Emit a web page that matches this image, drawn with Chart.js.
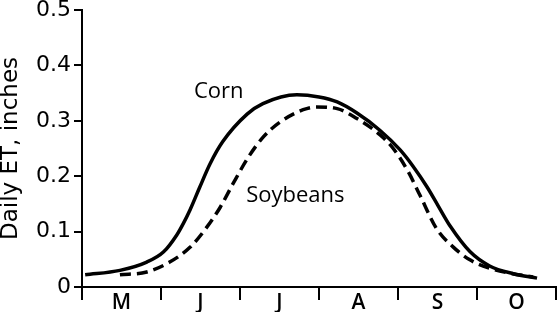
<!DOCTYPE html>
<html lang="en">
<head>
    <meta charset="UTF-8">
    <style>
        body { margin: 0; background: #fff; }
        #wrap { width: 558px; height: 312px; }
    </style>
</head>

<body>
<script src="https://cdn.jsdelivr.net/npm/chart.js@4.4.0/dist/chart.umd.min.js"></script>
<div id="wrap"><canvas id="et-chart"></canvas></div>
<script>

    // month bands along the season, x is measured in months from May 1
    const months = ['M', 'J', 'J', 'A', 'S', 'O']

    const cornX  = [0.04, 0.48, 0.82, 1.03, 1.20, 1.28, 1.37, 1.49, 1.62, 1.78, 2.09, 2.29, 2.72, 3.00, 3.23, 3.48, 3.77, 4.03, 4.19, 4.37, 4.51, 4.66, 4.91, 5.16, 5.46, 5.76]
    const cornET = [0.022, 0.030, 0.045, 0.063, 0.094, 0.114, 0.140, 0.180, 0.222, 0.262, 0.312, 0.331, 0.347, 0.343, 0.334, 0.314, 0.283, 0.247, 0.218, 0.180, 0.146, 0.110, 0.064, 0.038, 0.024, 0.016]

    const soyX  = [0.48, 0.82, 1.11, 1.37, 1.58, 1.75, 1.91, 2.10, 2.29, 2.51, 2.80, 2.97, 3.23, 3.48, 3.77, 3.94, 4.13, 4.28, 4.49, 4.70, 4.91, 5.16, 5.42, 5.71]
    const soyET = [0.022, 0.027, 0.045, 0.072, 0.108, 0.144, 0.186, 0.233, 0.270, 0.298, 0.320, 0.325, 0.322, 0.304, 0.275, 0.250, 0.208, 0.165, 0.105, 0.072, 0.049, 0.034, 0.025, 0.018]

    const cornPoints = cornX.map((x, i) => ({x: x, y: cornET[i]}))
    const soyPoints = soyX.map((x, i) => ({x: x, y: soyET[i]}))

    // "Corn" / "Soybeans" written next to the curves
    const curveLabels = {
        id: 'curveLabels',
        afterDatasetsDraw(chart) {
            const ctx = chart.ctx
            const xs = chart.scales.x, ys = chart.scales.y
            ctx.save()
            ctx.fillStyle = '#000'
            ctx.font = '22px "Open Sans"'
            ctx.textAlign = 'center'
            ctx.textBaseline = 'middle'
            ctx.fillText('Corn', xs.getPixelForValue(1.73), ys.getPixelForValue(0.352))
            ctx.fillText('Soybeans', xs.getPixelForValue(2.70), ys.getPixelForValue(0.165))
            ctx.restore()
        }
    }

    new Chart(document.getElementById('et-chart'), {
        type: 'line',
        data: {
            datasets: [
                {
                    label: 'Corn',
                    data: cornPoints,
                    borderColor: '#000',
                    borderWidth: 3.5,
                    pointRadius: 0,
                    cubicInterpolationMode: 'monotone'
                },
                {
                    label: 'Soybeans',
                    data: soyPoints,
                    borderColor: '#000',
                    borderWidth: 3.5,
                    borderDash: [11, 6],
                    pointRadius: 0,
                    cubicInterpolationMode: 'monotone'
                }
            ]
        },
        options: {
            responsive: true,
            maintainAspectRatio: false,
            animation: false,
            layout: { padding: { left: 0, right: 2, top: 0, bottom: 0 } },
            plugins: {
                legend: { display: false },
                tooltip: { enabled: false }
            },
            scales: {
                x: {
                    type: 'linear',
                    display: false,
                    min: 0,
                    max: 6
                },
                months: {
                    type: 'category',
                    labels: months,
                    position: 'bottom',
                    offset: true,
                    grid: {
                        offset: true,
                        drawOnChartArea: false,
                        drawTicks: true,
                        tickLength: 13,
                        color: '#000',
                        lineWidth: 2
                    },
                    border: { color: '#000', width: 2 },
                    ticks: {
                        color: '#000',
                        padding: -7,
                        maxRotation: 0,
                        font: { family: '"Open Sans"', size: 21, weight: 600, lineHeight: 1 }
                    },
                    afterFit(scale) {
                        scale.height = 25
                        scale.paddingLeft = 0
                        scale.paddingRight = 0
                    }
                },
                y: {
                    min: 0,
                    max: 0.5,
                    ticks: {
                        stepSize: 0.1,
                        color: '#000',
                        padding: 3,
                        font: { family: '"DejaVu Sans"', size: 22, lineHeight: 1 }
                    },
                    grid: {
                        drawOnChartArea: false,
                        drawTicks: true,
                        tickLength: 8,
                        color: '#000',
                        lineWidth: 2
                    },
                    border: { color: '#000', width: 2 },
                    title: {
                        display: true,
                        text: 'Daily ET, inches',
                        color: '#000',
                        padding: { top: 0, bottom: 0 },
                        font: { family: '"DejaVu Sans"', size: 23, lineHeight: 1 }
                    },
                    afterFit(scale) {
                        scale.width = 82
                        scale.paddingTop = 10
                        scale.paddingBottom = 0
                    }
                }
            }
        },
        plugins: [curveLabels]
    });
</script>

</body>

</html>
